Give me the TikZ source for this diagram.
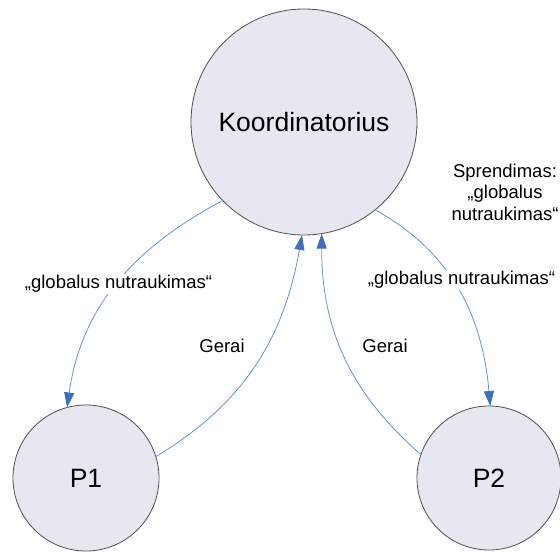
\documentclass[tikz,border=0pt]{standalone}
\usepackage{fontspec}
\setmainfont{Liberation Sans}
\usetikzlibrary{arrows.meta}
\definecolor{nodefill}{RGB}{230,231,240}
\definecolor{nodeline}{RGB}{80,80,80}
\definecolor{linkline}{RGB}{105,145,210}
\definecolor{linktip}{RGB}{64,110,190}
\tikzset{
  proc/.style={circle, draw=nodeline, fill=nodefill, line width=0.8pt,
    inner sep=0pt, outer sep=0pt},
  msg/.style={draw=linkline, line width=0.8pt,
    -{Triangle[length=15pt,width=10pt,color=linktip]}},
  lbl/.style={font=\fontsize{18.5}{21.5}\selectfont, inner sep=1pt, align=center},
}
\begin{document}
\begin{tikzpicture}[x=1pt,y=-1pt]
\useasboundingbox (0,0) rectangle (560,552);

% coordinator and participants
\node[proc, minimum size=226pt, font=\fontsize{26.5}{30}\selectfont] (K) at (304,122) {Koordinatorius};
\node[proc, minimum size=146pt, font=\fontsize{26.5}{30}\selectfont] (P1) at (86,478) {P1};
\node[proc, minimum size=144pt, font=\fontsize{26.5}{30}\selectfont] (P2) at (489,478) {P2};

% messages
\draw[msg] (K.224) to[out=208,in=82] (P1.105);
\draw[msg] (P1.17) to[out=31,in=260] (K.269);
\draw[msg] (P2.161) to[out=139,in=270] (K.279);
\draw[msg] (K.309) to[out=-29,in=95] (P2.89);

% labels
\node[lbl, fill=white] (l1) at (118.5,284) {„globalus nutraukimas“};
\node[lbl, fill=white] (l2) at (461.5,280) {„globalus nutraukimas“};
\node[lbl] (g1) at (222,346) {Gerai};
\node[lbl] (g2) at (385,346) {Gerai};
\node[lbl] (s) at (505,192) {Sprendimas:\\„globalus\\nutraukimas“};
\end{tikzpicture}
\end{document}
